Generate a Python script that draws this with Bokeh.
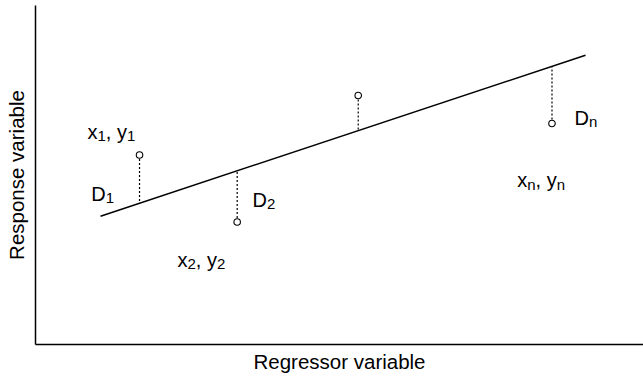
from bokeh.plotting import figure
from bokeh.models import ColumnDataSource, Range1d, FixedTicker
from bokeh.core.properties import value
from bokeh.embed import file_html
from bokeh.resources import INLINE

# ---- data (schematic units, 0..100 on both axes) ----
point_x = [17.11, 33.17, 53.08, 84.95]
point_y = [55.90, 36.14, 73.45, 65.19]
fit_x = [10.69, 90.46]
fit_y = [37.85, 85.34]
label_text = ["x_1, y_1", "D_1", "x_2, y_2", "D_2", "D_n", "x_n, y_n"]
label_x = [8.55, 9.16, 23.36, 35.69, 88.65, 79.23]
label_y = [62.83, 44.54, 24.78, 42.77, 66.96, 48.38]
x_title = "Regressor variable"
y_title = "Response variable"

# ---- styles ----
FONT = "Liberation Sans"
MAIN = 20
SUB = 15
SUB_DROP = 4
TITLE = 20.5
WIDTHS = {"x": .5, "y": .5, "D": .722, ",": .278, " ": .278,
          "1": .556, "2": .556, "n": .556}

p = figure(width=643, height=377, x_range=Range1d(0, 100), y_range=Range1d(0, 100),
           output_backend="svg", toolbar_location=None,
           min_border_left=35, min_border_right=0, min_border_top=5, min_border_bottom=33)
p.outline_line_color = None
p.xgrid.grid_line_color = None
p.ygrid.grid_line_color = None
for ax in (p.xaxis, p.yaxis):
    ax.ticker = FixedTicker(ticks=[])
    ax.major_tick_line_color = None
    ax.minor_tick_line_color = None
    ax.major_tick_out = 0
    ax.major_tick_in = 0
    ax.major_label_text_font_size = "0px"
    ax.major_label_standoff = 0
    ax.axis_line_width = 1.5
    ax.axis_line_color = "black"
    ax.axis_label_text_font = FONT
    ax.axis_label_text_font_size = f"{TITLE}px"
    ax.axis_label_text_font_style = "normal"
    ax.axis_label_text_color = "black"
p.xaxis.axis_label = x_title
p.yaxis.axis_label = y_title
p.xaxis.axis_label_standoff = 5
p.yaxis.axis_label_standoff = 8

# fitted line
p.line(fit_x, fit_y, line_width=1.5, color="black")

# residuals (vertical dotted from point to the line)
slope = (fit_y[1] - fit_y[0]) / (fit_x[1] - fit_x[0])
res_y = [fit_y[0] + slope * (x - fit_x[0]) for x in point_x]
p.segment(x0=point_x, y0=point_y, x1=point_x, y1=res_y,
          line_dash="2 2", line_width=1.2, color="black")
p.scatter(point_x, point_y, marker="circle", size=6.5, fill_color="white",
          line_color="black", line_width=1.1)

# labels with subscripts
main = dict(x=[], y=[], text=[], xo=[], yo=[])
sub = dict(x=[], y=[], text=[], xo=[], yo=[])
for t, lx, ly in zip(label_text, label_x, label_y):
    xo = 0.0
    i = 0
    buf = ""
    def flush(buf, xo):
        if buf:
            main["x"].append(lx); main["y"].append(ly); main["text"].append(buf)
            main["xo"].append(xo); main["yo"].append(0)
            xo += sum(WIDTHS.get(c, .55) for c in buf) * MAIN
        return xo
    while i < len(t):
        if t[i] == "_":
            xo = flush(buf, xo); buf = ""
            c = t[i + 1]
            sub["x"].append(lx); sub["y"].append(ly); sub["text"].append(c)
            sub["xo"].append(xo); sub["yo"].append(SUB_DROP)
            xo += WIDTHS.get(c, .55) * SUB
            i += 2
        else:
            buf += t[i]
            i += 1
    flush(buf, xo)

p.text(x="x", y="y", text="text", x_offset="xo", y_offset="yo",
       source=ColumnDataSource(main), text_font=value(FONT),
       text_font_size=value(f"{MAIN}px"), text_baseline="alphabetic",
       text_align="left", text_color="black")
p.text(x="x", y="y", text="text", x_offset="xo", y_offset="yo",
       source=ColumnDataSource(sub), text_font=value(FONT),
       text_font_size=value(f"{SUB}px"), text_baseline="alphabetic",
       text_align="left", text_color="black")

open("out.html", "w").write(file_html(p, INLINE))
